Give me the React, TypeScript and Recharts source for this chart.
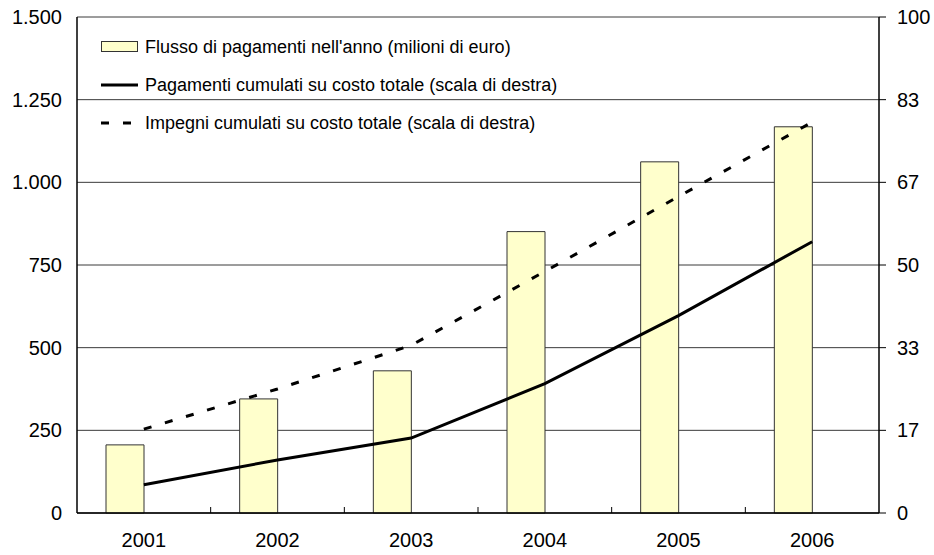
import { ComposedChart, Bar, Line, XAxis, YAxis, CartesianGrid, Legend } from 'recharts'

const anni = ['2001', '2002', '2003', '2004', '2005', '2006']
// flusso annuo, milioni di euro (scala di sinistra)
const flussoPagamenti = [206, 345, 430, 851, 1062, 1168]
// quote cumulate su costo totale (scala di destra)
const pagamentiCumulati = [5.7, 10.7, 15.1, 26.1, 39.8, 54.7]
const impegniCumulati = [16.9, 25.0, 33.8, 48.7, 63.8, 78.8]

const leftTicks = [0, 250, 500, 750, 1000, 1250, 1500]
const rightTicks = [0, 1, 2, 3, 4, 5, 6].map((i) => (i * 100) / 6)

const FONT = '"Liberation Sans", Arial, sans-serif'
const X_TICK_MARGIN = 20

const data = anni.map((anno, i) => ({
  anno,
  flusso: flussoPagamenti[i],
  vuoto: null,
  pagamenti: pagamentiCumulati[i],
  impegni: impegniCumulati[i],
}))

const fmtMigliaia = (v: number) => String(v).replace(/\B(?=(\d{3})+(?!\d))/g, '.')

// etichetta dell'anno + tacca interna sul bordo sinistro della categoria
function AnnoTick(props: any) {
  const { x, y, payload } = props
  const half = payload?.offset ?? 0
  const axisY = y - X_TICK_MARGIN
  return (
    <g>
      {payload.index > 0 && half > 0 && (
        <line x1={x - half} x2={x - half} y1={axisY} y2={axisY - 6} stroke="#000" strokeWidth={1} />
      )}
      <text x={x} y={y} dy="0.71em" textAnchor="middle" fill="#000" fontSize={20} fontFamily={FONT}>
        {payload.value}
      </text>
    </g>
  )
}

function LegendBox() {
  const row = { display: 'flex', alignItems: 'center', height: 38 }
  const text = { fontFamily: FONT, fontSize: 18, color: '#000', marginLeft: 6, whiteSpace: 'nowrap' as const }
  return (
    <div>
      <div style={row}>
        <svg width={38} height={12}>
          <rect x={0.5} y={0.5} width={36} height={10} fill="#ffffcc" stroke="#333" />
        </svg>
        <span style={text}>Flusso di pagamenti nell'anno (milioni di euro)</span>
      </div>
      <div style={row}>
        <svg width={38} height={12}>
          <line x1={0} y1={6} x2={37} y2={6} stroke="#000" strokeWidth={3} />
        </svg>
        <span style={text}>Pagamenti cumulati su costo totale (scala di destra)</span>
      </div>
      <div style={row}>
        <svg width={38} height={12}>
          <line x1={0} y1={6} x2={37} y2={6} stroke="#000" strokeWidth={3} strokeDasharray="8 14" />
        </svg>
        <span style={text}>Impegni cumulati su costo totale (scala di destra)</span>
      </div>
    </div>
  )
}

export default function App() {
  return (
    <div style={{ width: 934, height: 555, background: '#fff' }}>
      <style>{'body{margin:0}'}</style>
      <ComposedChart
        width={934}
        height={555}
        data={data}
        margin={{ top: 17, right: 0, bottom: 0, left: 0 }}
        barSize={38}
        barGap={0}
      >
        <CartesianGrid vertical={false} stroke="#3a3a3a" yAxisId="left" />
        <XAxis
          dataKey="anno"
          height={42}
          tickLine={false}
          tickSize={0}
          tickMargin={X_TICK_MARGIN}
          axisLine={{ stroke: '#000', strokeWidth: 1.5 }}
          tick={<AnnoTick />}
        />
        <YAxis
          yAxisId="left"
          width={77}
          domain={[0, 1500]}
          ticks={leftTicks}
          tickLine={false}
          tickSize={13}
          tickMargin={2}
          tickFormatter={fmtMigliaia}
          axisLine={{ stroke: '#000', strokeWidth: 1.5 }}
          tick={{ fill: '#000', fontSize: 20, fontFamily: FONT }}
        />
        <YAxis
          yAxisId="right"
          orientation="right"
          width={55}
          domain={[0, 100]}
          ticks={rightTicks}
          tickSize={7}
          tickMargin={11}
          tickFormatter={(v: number) => String(Math.round(v))}
          tickLine={{ stroke: '#000' }}
          axisLine={{ stroke: '#000', strokeWidth: 1.5 }}
          tick={{ fill: '#000', fontSize: 20, fontFamily: FONT, textAnchor: 'start' }}
        />
        <Legend
          layout="horizontal"
          verticalAlign="middle"
          align="center"
          content={() => <LegendBox />}
          wrapperStyle={{ position: 'absolute', top: 28, left: 101, width: 'auto' }}
        />
        <Bar
          dataKey="flusso"
          yAxisId="left"
          fill="#ffffcc"
          stroke="#333"
          strokeWidth={1}
          isAnimationActive={false}
        />
        <Bar dataKey="vuoto" yAxisId="left" fill="none" legendType="none" isAnimationActive={false} />
        <Line
          dataKey="pagamenti"
          yAxisId="right"
          type="linear"
          stroke="#000"
          strokeWidth={3}
          dot={false}
          isAnimationActive={false}
        />
        <Line
          dataKey="impegni"
          yAxisId="right"
          type="linear"
          stroke="#000"
          strokeWidth={3}
          strokeDasharray="8 14"
          dot={false}
          isAnimationActive={false}
        />
      </ComposedChart>
    </div>
  )
}
